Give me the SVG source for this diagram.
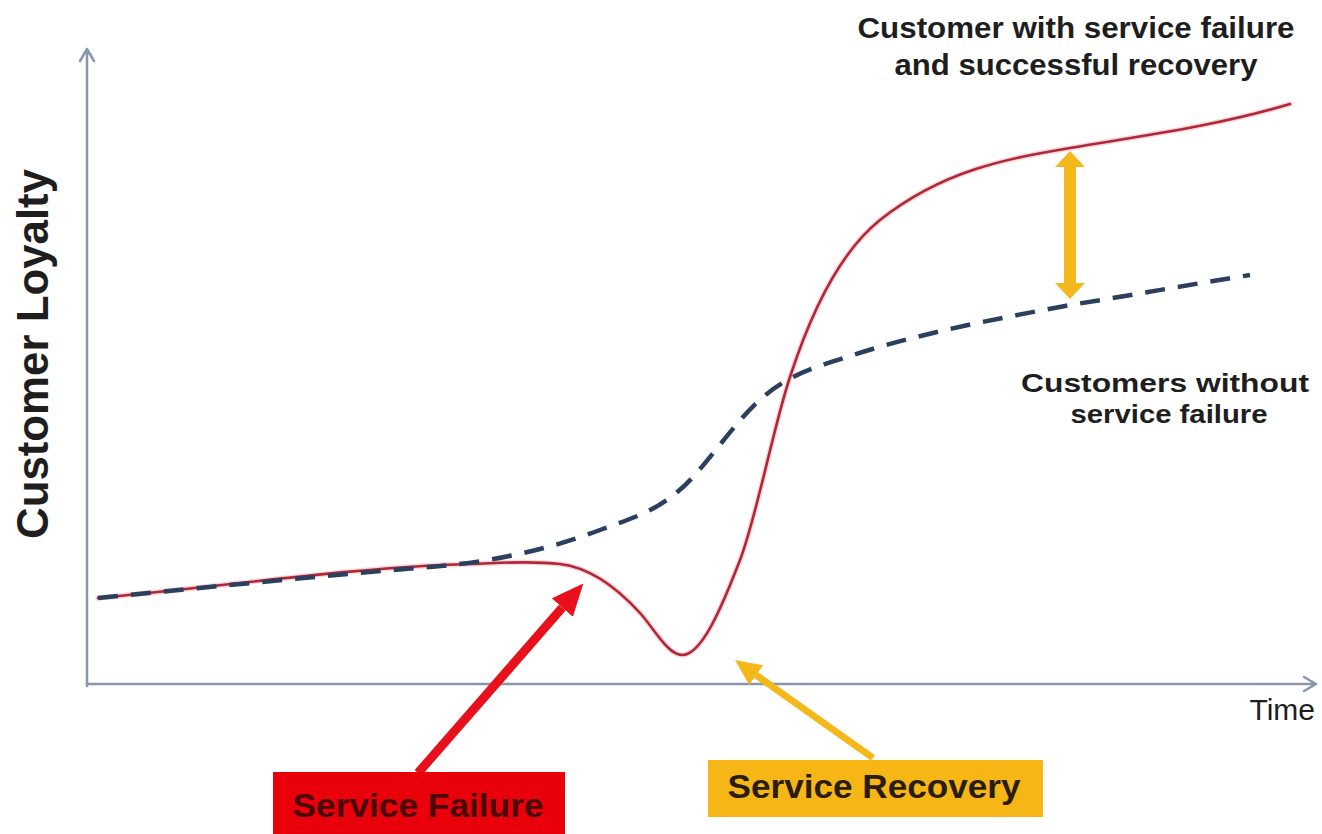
<svg xmlns="http://www.w3.org/2000/svg" width="1322" height="834" viewBox="0 0 1322 834">
  <style>
    .axis { stroke: #8896ae; stroke-width: 2.5; fill: none; stroke-linecap: round; stroke-linejoin: round; }
    .lbl { font-family: "Liberation Sans", Arial, sans-serif; font-weight: bold; fill: #1e1e1e; }
    .red { fill: none; stroke: #b02838; stroke-width: 2.6; stroke-linecap: round; }
    .redglow { fill: none; stroke: #f2a8b0; stroke-width: 5.5; stroke-opacity: 0.45; stroke-linecap: round; }
    .dash { fill: none; stroke: #2b3f5f; stroke-width: 4.5; stroke-dasharray: 20 13; }
  </style>
  <defs>
    <marker id="headRed" viewBox="0 0 32 28" refX="0" refY="14" markerWidth="32" markerHeight="28" markerUnits="userSpaceOnUse" orient="auto">
      <path d="M0,0 L32,14 L0,28 z" fill="#e8101a"/>
    </marker>
    <marker id="headYel" viewBox="0 0 26 24" refX="0" refY="12" markerWidth="26" markerHeight="24" markerUnits="userSpaceOnUse" orient="auto">
      <path d="M0,0 L26,12 L0,24 z" fill="#f4b81a"/>
    </marker>
    <marker id="headDbl" viewBox="0 0 16 30" refX="0" refY="15" markerWidth="16" markerHeight="30" markerUnits="userSpaceOnUse" orient="auto-start-reverse">
      <path d="M0,0 L16,15 L0,30 z" fill="#f4b81a"/>
    </marker>
  </defs>
  <rect x="0" y="0" width="1322" height="834" fill="#ffffff"/>

  <g id="axes">
    <path class="axis" d="M87,686 L87,49 M80,61 L87,49 L94,61"/>
    <path class="axis" d="M87,684 L1316,684 M1304,677 L1316,684 L1304,691"/>
  </g>

  <g id="y-label">
    <text class="lbl" transform="translate(48,354) rotate(-90)" text-anchor="middle" font-size="44" textLength="370" lengthAdjust="spacingAndGlyphs">Customer Loyalty</text>
  </g>

  <g id="x-label">
    <text class="lbl" x="1315" y="720" text-anchor="end" font-size="30" style="font-weight:normal">Time</text>
  </g>

  <g id="curves">
    <path id="curve-recovery-glow" class="redglow" d="M98,598 C222,586.8 346,567.7 470,564 C500,563.1 530,560.4 560,564 C586.7,567.2 613.3,583.6 640,613 C654,628.4 668,655 682,655 C701.3,655 720.7,610.2 740,560 C756.7,516.6 773.3,427 790,377 C815,300 845,248 880,220 C943.3,170 1006.7,158.8 1070,148 C1143.3,135.5 1216.7,126 1290,104"/>
    <path id="curve-recovery" class="red" d="M98,598 C222,586.8 346,567.7 470,564 C500,563.1 530,560.4 560,564 C586.7,567.2 613.3,583.6 640,613 C654,628.4 668,655 682,655 C701.3,655 720.7,610.2 740,560 C756.7,516.6 773.3,427 790,377 C815,300 845,248 880,220 C943.3,170 1006.7,158.8 1070,148 C1143.3,135.5 1216.7,126 1290,104"/>
    <path id="curve-no-failure" class="dash" d="M98,598 C208.7,587 319.3,576 430,567 C486.7,562.5 543.3,551.5 600,530 C631,518.2 662,511.1 693,477 C716.3,451.3 739.7,416.8 763,397 C791,373.2 819,366.2 847,357 C921.3,332.5 995.7,319.1 1070,305 C1130,295.5 1190,284.5 1250,275"/>
  </g>

  <g id="top-label">
    <text class="lbl" x="1076" y="38" text-anchor="middle" font-size="29" textLength="437" lengthAdjust="spacingAndGlyphs">Customer with service failure</text>
    <text class="lbl" x="1076" y="75" text-anchor="middle" font-size="29" textLength="363" lengthAdjust="spacingAndGlyphs">and successful recovery</text>
  </g>

  <g id="right-label">
    <text class="lbl" x="1165" y="392" text-anchor="middle" font-size="26" textLength="288" lengthAdjust="spacingAndGlyphs">Customers without</text>
    <text class="lbl" x="1169" y="423" text-anchor="middle" font-size="26" textLength="197" lengthAdjust="spacingAndGlyphs">service failure</text>
  </g>

  <g id="connectors">
    <line id="arrow-failure" x1="418" y1="773" x2="562.3" y2="607.6" stroke="#e8101a" stroke-width="9" marker-end="url(#headRed)"/>
    <line id="arrow-recovery" x1="873" y1="758" x2="756.2" y2="675.1" stroke="#f4b81a" stroke-width="7" marker-end="url(#headYel)"/>
    <line id="arrow-gap" x1="1070" y1="167" x2="1070" y2="283" stroke="#f4b81a" stroke-width="12" marker-start="url(#headDbl)" marker-end="url(#headDbl)"/>
  </g>

  <g id="service-failure">
    <rect x="273" y="772" width="292" height="62" fill="#e8000b"/>
    <text class="lbl" x="418" y="817" text-anchor="middle" font-size="34" style="fill:#4a0808" textLength="251" lengthAdjust="spacingAndGlyphs">Service Failure</text>
  </g>

  <g id="service-recovery">
    <rect x="708" y="760" width="335" height="57" fill="#f5b616"/>
    <text class="lbl" x="874" y="798" text-anchor="middle" font-size="34" style="fill:#2b1d0e" textLength="293" lengthAdjust="spacingAndGlyphs">Service Recovery</text>
  </g>
</svg>
